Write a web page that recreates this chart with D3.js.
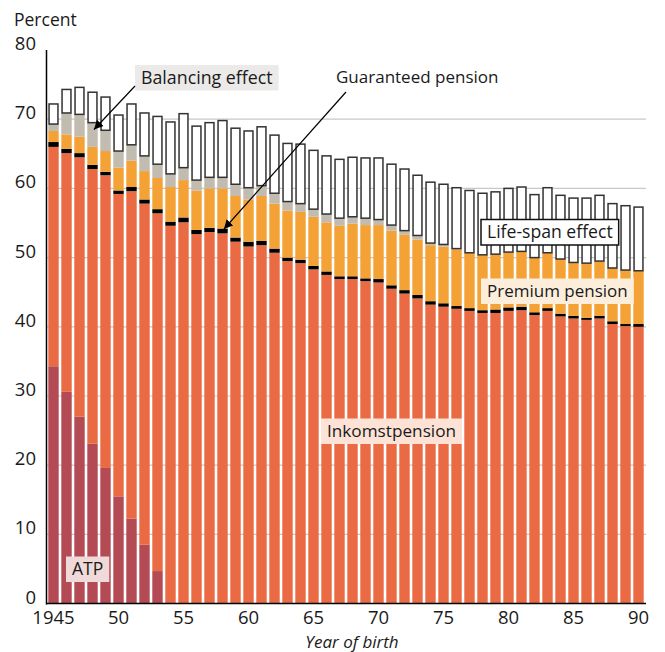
<!DOCTYPE html>
<html>
<head>
<meta charset="utf-8">
<script src="https://cdn.jsdelivr.net/npm/d3@7"></script>
<style>
  html, body { margin: 0; padding: 0; background: #fff; }
  svg { display: block; font-family: "Open Sans", sans-serif; }
</style>
</head>
<body>
<svg id="chart" width="665" height="652"></svg>
<script>
// ---------------- DATA ----------------
const years = [1945,1946,1947,1948,1949,1950,1951,1952,1953,1954,1955,1956,1957,1958,1959,
  1960,1961,1962,1963,1964,1965,1966,1967,1968,1969,1970,1971,1972,1973,1974,1975,1976,1977,
  1978,1979,1980,1981,1982,1983,1984,1985,1986,1987,1988,1989,1990];

const atp = [34.3,30.6,27.0,23.1,19.6,15.5,12.3,8.5,4.7,0,0,0,0,0,0,0,0,0,0,0,0,0,0,0,0,0,0,0,0,0,0,0,0,0,0,0,0,0,0,0,0,0,0,0,0,0];

const inkomstpension = [31.7,34.5,37.5,39.7,42.3,43.7,47.3,49.3,51.7,54.6,55.1,53.4,53.7,53.5,52.3,
  51.6,51.8,50.7,49.5,49.2,48.3,47.5,46.9,46.9,46.6,46.4,45.5,44.8,44.1,43.2,42.9,42.6,42.3,
  42.0,42.0,42.3,42.4,41.7,42.3,41.5,41.2,41.0,41.2,40.4,40.1,40.0];

const guaranteed = [0.7,0.6,0.6,0.6,0.5,0.5,0.6,0.6,0.6,0.6,0.7,0.6,0.6,0.7,0.6,
  0.7,0.6,0.6,0.5,0.5,0.5,0.5,0.4,0.4,0.4,0.5,0.5,0.5,0.5,0.5,0.5,0.4,0.4,
  0.4,0.5,0.5,0.5,0.4,0.4,0.4,0.4,0.3,0.4,0.4,0.3,0.4];

const premium = [1.6,2.1,2.4,2.6,3.0,3.3,3.8,4.1,4.5,5.0,5.4,5.7,5.7,5.8,6.0,
  6.1,6.5,6.5,6.8,6.9,7.1,7.1,7.3,7.6,7.7,7.8,7.9,8.0,8.0,8.1,8.2,8.2,8.0,
  8.0,8.0,8.0,8.0,7.9,8.0,7.9,7.7,7.9,7.9,7.7,7.8,7.7];

const balancing = [1.0,3.1,3.2,3.5,3.0,2.4,2.3,2.2,2.0,1.9,1.8,1.5,1.6,1.6,1.7,
  1.7,1.5,1.5,1.3,1.2,1.1,1.2,1.1,1.0,1.0,0.8,0.8,0.6,0.6,0.3,0.3,0.1,0,
  0,0,0,0,0,0,0,0,0,0,0,0,0];

const lifespan = [2.9,3.4,3.9,4.4,4.8,5.2,5.9,6.2,6.9,7.5,7.8,7.8,7.9,8.2,8.1,
  8.2,8.5,8.4,8.4,8.6,8.5,8.4,8.5,8.6,8.7,8.9,8.8,8.9,8.7,8.8,8.7,8.8,9.0,
  8.9,9.0,9.2,9.3,9.1,9.4,9.2,9.3,9.4,9.5,9.3,9.3,9.2];

const seriesKeys = ["atp","inkomstpension","guaranteed","premium","balancing","lifespan"];
const yTicks = [0,10,20,30,40,50,60,70,80];
const xTickYears = [1945,1950,1955,1960,1965,1970,1975,1980,1985,1990];
const xTickLabels = ["1945","50","55","60","65","70","75","80","85","90"];

// ---------------- STYLE ----------------
const colors = {
  atp: "#b34a54",
  inkomstpension: "#ea6b43",
  guaranteed: "#000000",
  premium: "#f4a236",
  balancing: "#c1bbb0",
  lifespan: "#ffffff"
};

const svg = d3.select("#chart");
const plot = { left: 47, right: 645, top: 50, bottom: 603.6 };

const table = years.map((yr, i) => ({
  year: yr,
  atp: atp[i],
  inkomstpension: inkomstpension[i],
  guaranteed: guaranteed[i],
  premium: premium[i],
  balancing: balancing[i],
  lifespan: lifespan[i]
}));

const x = d3.scaleBand().domain(years).range([plot.left, plot.right])
  .paddingInner(0.2).paddingOuter(0.1);
const y = d3.scaleLinear().domain([0, 80]).range([plot.bottom, plot.top]);

// gridlines
svg.append("g").selectAll("line")
  .data(yTicks.filter(d => d > 0 && d < 80))
  .join("line")
  .attr("x1", plot.left).attr("x2", plot.right + 1)
  .attr("y1", d => y(d)).attr("y2", d => y(d))
  .attr("stroke", "#c8c8c8").attr("stroke-width", 1.2);

// bars
const stacked = d3.stack().keys(seriesKeys)(table);
const bw = x.bandwidth();
stacked.forEach(layer => {
  const key = layer.key;
  const g = svg.append("g");
  g.selectAll("rect")
    .data(layer.filter(d => d[1] - d[0] > 0))
    .join("rect")
    .attr("x", d => key === "lifespan" ? x(d.data.year) + 0.75 : x(d.data.year))
    .attr("width", key === "lifespan" ? bw - 1.5 : bw)
    .attr("y", d => y(d[1]))
    .attr("height", d => y(d[0]) - y(d[1]))
    .attr("fill", colors[key])
    .attr("stroke", key === "lifespan" ? "#333" : "none")
    .attr("stroke-width", key === "lifespan" ? 1.5 : 0);
});

// axes
const yAxisG = svg.append("g");
yAxisG.append("line")
  .attr("x1", plot.left - 0.5).attr("x2", plot.left - 0.5)
  .attr("y1", plot.top).attr("y2", plot.bottom + 1)
  .attr("stroke", "#000").attr("stroke-width", 1.5);
yAxisG.selectAll("text").data(yTicks).join("text")
  .attr("x", 36).attr("y", d => y(d))
  .attr("text-anchor", "end")
  .attr("font-size", 18.5).attr("fill", "#1a1a1a")
  .text(d => d);

const xAxis = d3.axisBottom(x).tickValues(xTickYears)
  .tickFormat((d, i) => xTickLabels[i]).tickSize(0).tickPadding(0);
const xAxisG = svg.append("g").attr("transform", `translate(0,${plot.bottom})`).call(xAxis);
xAxisG.select(".domain").remove();
xAxisG.selectAll("text").attr("font-size", 18.5).attr("fill", "#1a1a1a")
  .attr("font-family", "Open Sans, sans-serif").attr("y", 20).attr("dy", 0);
svg.append("line")
  .attr("x1", plot.left - 1).attr("x2", plot.right + 1)
  .attr("y1", plot.bottom).attr("y2", plot.bottom)
  .attr("stroke", "#000").attr("stroke-width", 1.5);

svg.append("text").attr("x", 14).attr("y", 26)
  .attr("font-size", 17.5).attr("fill", "#1a1a1a").text("Percent");
svg.append("text").attr("x", 352).attr("y", 648)
  .attr("text-anchor", "middle").attr("font-style", "italic")
  .attr("font-size", 17).attr("fill", "#1a1a1a").text("Year of birth");

// labels
function boxLabel(text, tx, ty, bg, stroke, fs) {
  const g = svg.append("g");
  const rect = g.append("rect");
  const t = g.append("text").attr("x", tx).attr("y", ty)
    .attr("font-size", fs).attr("fill", "#1a1a1a").text(text);
  const bb = t.node().getBBox();
  rect.attr("x", bb.x - 6).attr("y", ty - 18.5)
    .attr("width", bb.width + 12).attr("height", 25.5)
    .attr("fill", bg)
    .attr("stroke", stroke || "none")
    .attr("stroke-width", stroke ? 1.5 : 0);
}
boxLabel("Balancing effect", 141, 83.5, "#ebeae8", null, 17.8);
boxLabel("Life-span effect", 487, 238, "#ffffff", "#111", 17.6);
boxLabel("Premium pension", 487, 297, "#fdeedc", null, 17);
boxLabel("Inkomstpension", 327, 437, "#fde2d5", null, 17.2);
boxLabel("ATP", 72, 575, "#f0dad9", null, 17.5);
svg.append("text").attr("x", 336).attr("y", 83)
  .attr("font-size", 17).attr("fill", "#1a1a1a").text("Guaranteed pension");

// arrows
svg.append("defs").append("marker")
  .attr("id", "ah").attr("viewBox", "0 0 10 10")
  .attr("refX", 10).attr("refY", 5)
  .attr("markerWidth", 9).attr("markerHeight", 9)
  .attr("markerUnits", "userSpaceOnUse")
  .attr("orient", "auto")
  .append("path").attr("d", "M0,0 L10,5 L0,10 z").attr("fill", "#000");

svg.append("line").attr("x1", 135).attr("y1", 86).attr("x2", 94).attr("y2", 129.5)
  .attr("stroke", "#000").attr("stroke-width", 1.2).attr("marker-end", "url(#ah)");
svg.append("line").attr("x1", 346).attr("y1", 92).attr("x2", 224).attr("y2", 229)
  .attr("stroke", "#000").attr("stroke-width", 1.2).attr("marker-end", "url(#ah)");
</script>
</body>
</html>
